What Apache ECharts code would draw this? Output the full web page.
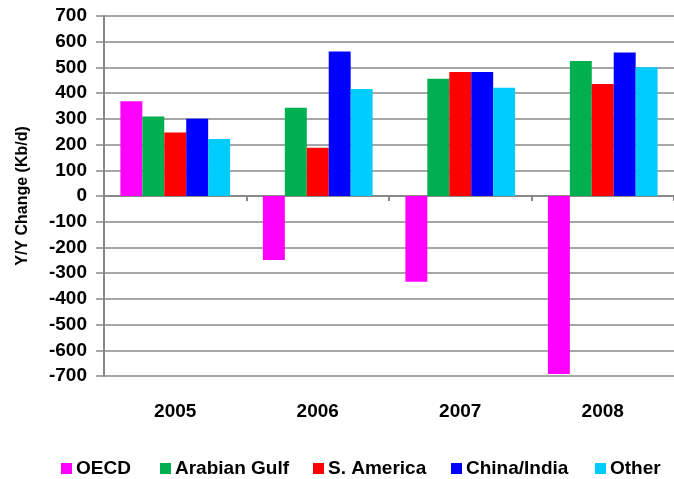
<!DOCTYPE html>
<html>
<head>
<meta charset="utf-8">
<script src="https://cdn.jsdelivr.net/npm/echarts@6/dist/echarts.min.js"></script>
<style>html,body{margin:0;padding:0;background:#fff;}#c{width:674px;height:479px;}</style>
</head>
<body>
<div id="c"></div>
<script>
var categories = ['2005', '2006', '2007', '2008'];
var oecd = [368, -249, -333, -692];
var arabianGulf = [309, 343, 456, 525];
var sAmerica = [247, 188, 482, 436];
var chinaIndia = [300, 562, 482, 558];
var other = [222, 416, 421, 501];
var seriesNames = ['OECD', 'Arabian Gulf', 'S. America', 'China/India', 'Other'];
var seriesColors = ['#FF00FF', '#00B050', '#FF0000', '#0000FF', '#00CCFF'];
var seriesData = [oecd, arabianGulf, sAmerica, chinaIndia, other];
var legendLefts = [56, 155, 308, 446, 590];

var FONT = '"Liberation Sans", Arial, sans-serif';
var chart = echarts.init(document.getElementById('c'));
var series = seriesNames.map(function (n, i) {
  return {
    name: n, type: 'bar', data: seriesData[i],
    xAxisIndex: 0, yAxisIndex: 0,
    barGap: '0%', barCategoryGap: '23%',
    itemStyle: { color: seriesColors[i] },
    animation: false
  };
});
var legends = seriesNames.map(function (n, i) {
  return {
    data: [n], left: legendLefts[i], top: 454,
    itemWidth: 11, itemHeight: 11, itemGap: 5,
    icon: 'rect',
    textStyle: { fontFamily: FONT, fontWeight: 'bold', fontSize: 19, color: '#000', padding: [0, 0, 0, -1] }
  };
});
chart.setOption({
  animation: false,
  grid: { left: 104, top: 16, height: 360, width: 577, containLabel: false },
  legend: legends,
  xAxis: [{
    type: 'category', data: categories, position: 'bottom',
    axisLine: { show: true, onZero: true, lineStyle: { color: '#888', width: 2 } },
    axisTick: { show: true, length: 5, lineStyle: { color: '#888', width: 2 } },
    axisLabel: { show: false },
    splitLine: { show: false }
  }, {
    type: 'category', data: categories, position: 'bottom',
    axisLine: { show: false, onZero: false },
    axisTick: { show: false },
    axisLabel: { show: true, margin: 26, fontFamily: FONT, fontWeight: 'bold', fontSize: 19, color: '#000' },
    splitLine: { show: false }
  }],
  yAxis: [{
    type: 'value', min: -700, max: 700, interval: 100,
    name: 'Y/Y Change (Kb/d)', nameLocation: 'middle', nameGap: 73, nameRotate: 90,
    nameTextStyle: { fontFamily: FONT, fontWeight: 'bold', fontSize: 16, color: '#000' },
    axisLine: { show: true, lineStyle: { color: '#888', width: 2 } },
    axisTick: { show: true, length: 8, lineStyle: { color: '#888', width: 1.5 } },
    axisLabel: { margin: 17, fontFamily: FONT, fontWeight: 'bold', fontSize: 19, color: '#000' },
    splitLine: { show: true, lineStyle: { color: '#888', width: 1.5 } }
  }],
  series: series
});
</script>
</body>
</html>
